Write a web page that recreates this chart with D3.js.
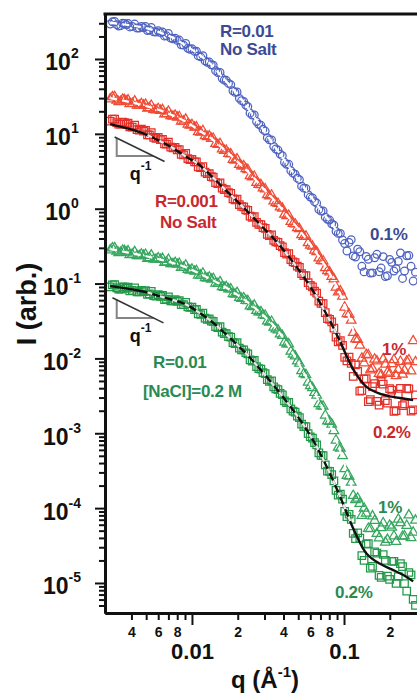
<!DOCTYPE html>
<html>
<head>
<meta charset="utf-8">
<script src="https://cdn.jsdelivr.net/npm/d3@7"></script>
<style>
  html, body { margin: 0; padding: 0; background: #fff; }
  svg { display: block; }
  text { font-family: "Liberation Sans", Arial, Helvetica, sans-serif; font-weight: bold; }
</style>
</head>
<body>
<svg id="chart" width="417" height="695"></svg>
<script>
// scattering vector q (1/A): two interleaved sets of points shared by all five curves
var qA = [0.0029, 0.0031, 0.0033, 0.0035, 0.0037, 0.0039, 0.0042, 0.0045, 0.0048, 0.0051,
  0.0054, 0.0058, 0.0062, 0.0066, 0.0070, 0.0075, 0.0080, 0.0085, 0.0091, 0.0097,
  0.0104, 0.0110, 0.0118, 0.0126, 0.0134, 0.0143, 0.0153, 0.0163, 0.0174, 0.0186,
  0.0198, 0.0212, 0.0226, 0.0241, 0.0257, 0.0275, 0.0293, 0.0313, 0.0334, 0.0356,
  0.0380, 0.0406, 0.0433, 0.0462, 0.0493, 0.0526, 0.0562, 0.0600, 0.0640, 0.0683,
  0.0729, 0.0778, 0.0830, 0.0886, 0.0946, 0.1010, 0.1080, 0.1150, 0.1230, 0.1310,
  0.1400, 0.1490, 0.1590, 0.1700, 0.1810, 0.1930, 0.2060, 0.2200, 0.2350, 0.2500,
  0.2670, 0.2850];
var qB = [0.0030, 0.0032, 0.0034, 0.0036, 0.0038, 0.00405, 0.00435, 0.00465, 0.00495, 0.00525,
  0.0056, 0.0060, 0.0064, 0.0068, 0.00725, 0.00775, 0.00825, 0.0088, 0.0094, 0.0100,
  0.0107, 0.0114, 0.0122, 0.0130, 0.0138, 0.0148, 0.0158, 0.0168, 0.0180, 0.0192,
  0.0205, 0.0219, 0.0233, 0.0249, 0.0266, 0.0284, 0.0303, 0.0323, 0.0345, 0.0368,
  0.0393, 0.0419, 0.0447, 0.0477, 0.0509, 0.0544, 0.0581, 0.0620, 0.0661, 0.0706,
  0.0753, 0.0804, 0.0858, 0.0916, 0.0978, 0.1045, 0.1115, 0.1190, 0.1270, 0.1355,
  0.1445, 0.1540, 0.1645, 0.1755, 0.1870, 0.1995, 0.2130, 0.2275, 0.2425, 0.2585,
  0.2760, 0.2950];

// R=0.01, no salt, 0.1 % (circles)
var blue01A = [293, 317, 276, 300, 287, 268, 293, 259, 262, 240, 264, 229, 225, 202, 219, 186, 177, 155,
  161, 135, 126, 110, 111, 90.3, 83.7, 69.8, 66.2, 52.1, 47.2, 37.6, 36.2, 27.7, 24.2, 18.9, 17.9,
  13.4, 11.5, 8.88, 8.28, 6.26, 5.36, 4.17, 3.92, 2.98, 2.56, 2.00, 1.87, 1.43, 1.24, 0.979, 0.932,
  0.720, 0.629, 0.498, 0.468, 0.342, 0.354, 0.234, 0.288, 0.170, 0.230, 0.138, 0.221, 0.144, 0.229,
  0.127, 0.192, 0.158, 0.257, 0.147, 0.237, 0.108];
var blue01B = [314, 287, 279, 298, 299, 272, 259, 273, 271, 244, 231, 238, 230, 204, 190, 190, 179, 153,
  139, 137, 127, 107, 94.3, 91.0, 82.5, 65.9, 55.2, 51.9, 45.5, 35.8, 29.8, 27.1, 23.1, 17.8, 14.6,
  13.0, 10.9, 8.32, 6.77, 6.07, 5.11, 3.92, 3.22, 2.89, 2.44, 1.88, 1.54, 1.39, 1.19, 0.927, 0.770,
  0.705, 0.604, 0.468, 0.382, 0.272, 0.385, 0.226, 0.266, 0.143, 0.211, 0.139, 0.246, 0.161, 0.124,
  0.210, 0.147, 0.198, 0.117, 0.235, 0.170, 0.142];

// R=0.001, no salt, 1 % (triangles)
var red1A = [29.1, 31.2, 26.8, 28.8, 27.2, 25.1, 27.3, 24.1, 24.0, 21.9, 23.9, 20.8, 20.5, 18.4, 19.9,
  17.1, 16.6, 14.7, 15.6, 13.0, 12.2, 10.6, 11.0, 9.11, 8.67, 7.41, 7.37, 5.96, 5.43, 4.53, 4.59,
  3.71, 3.40, 2.75, 2.69, 2.10, 1.88, 1.53, 1.51, 1.20, 1.05, 0.840, 0.809, 0.633, 0.556, 0.447,
  0.427, 0.324, 0.278, 0.218, 0.200, 0.148, 0.124, 0.0892, 0.0791, 0.0482, 0.0389, 0.0221, 0.0178,
  0.0100, 0.0112, 0.00699, 0.00971, 0.00625, 0.00977, 0.00649, 0.00848, 0.00584, 0.00908, 0.00692,
  0.00950, 0.0171];
var red1B = [31.1, 28.0, 26.9, 28.4, 28.2, 25.4, 24.1, 25.2, 24.7, 22.2, 21.0, 21.6, 20.9, 18.5, 17.4,
  17.6, 16.9, 14.7, 13.4, 13.2, 12.3, 10.5, 9.39, 9.31, 8.66, 7.16, 6.23, 5.96, 5.36, 4.42, 3.88,
  3.72, 3.31, 2.64, 2.24, 2.08, 1.83, 1.47, 1.26, 1.17, 1.01, 0.800, 0.673, 0.621, 0.538, 0.423,
  0.350, 0.314, 0.266, 0.202, 0.162, 0.142, 0.115, 0.0766, 0.0677, 0.0395, 0.0322, 0.0181, 0.0149,
  0.00868, 0.0111, 0.00729, 0.00923, 0.00602, 0.00834, 0.00626, 0.00958, 0.00706, 0.00610, 0.00918,
  0.00679, 0.00897];

// R=0.001, no salt, 0.2 % (squares)
var red02A = [14.8, 15.7, 13.5, 14.3, 13.5, 12.4, 13.1, 11.2, 10.9, 9.68, 10.4, 8.72, 8.36, 7.32, 7.74,
  6.47, 6.11, 5.30, 5.47, 4.52, 4.21, 3.63, 3.64, 2.93, 2.69, 2.23, 2.22, 1.80, 1.64, 1.35, 1.34,
  1.07, 0.967, 0.797, 0.785, 0.617, 0.558, 0.455, 0.447, 0.360, 0.320, 0.258, 0.252, 0.195, 0.171,
  0.136, 0.128, 0.0943, 0.0791, 0.0583, 0.0540, 0.0339, 0.0307, 0.0192, 0.0173, 0.0103, 0.0104,
  0.00576, 0.00669, 0.00370, 0.00538, 0.00281, 0.00459, 0.00238, 0.00453, 0.00252, 0.00377, 0.00200,
  0.00398, 0.00247, 0.00393, 0.00206];
var red02B = [15.7, 14.1, 13.5, 14.1, 13.9, 12.3, 11.4, 11.6, 11.1, 9.72, 8.94, 8.94, 8.45, 7.30, 6.66,
  6.58, 6.14, 5.22, 4.67, 4.56, 4.22, 3.53, 3.07, 2.94, 2.65, 2.16, 1.88, 1.80, 1.60, 1.31, 1.13,
  1.06, 0.948, 0.767, 0.655, 0.615, 0.544, 0.438, 0.377, 0.355, 0.310, 0.247, 0.208, 0.191, 0.164,
  0.128, 0.103, 0.0904, 0.0745, 0.0544, 0.0408, 0.0332, 0.0254, 0.0166, 0.0149, 0.00930, 0.00861,
  0.00818, 0.00366, 0.00528, 0.00265, 0.00419, 0.00266, 0.00490, 0.00272, 0.00394, 0.00196, 0.00334,
  0.00234, 0.00399, 0.00197, 0.00325];

// R=0.01, [NaCl]=0.2 M, 1 % (triangles)
var green1A = [0.280, 0.299, 0.258, 0.277, 0.262, 0.241, 0.265, 0.234, 0.236, 0.216, 0.239, 0.210, 0.209,
  0.190, 0.209, 0.183, 0.180, 0.163, 0.175, 0.150, 0.145, 0.129, 0.137, 0.117, 0.114, 0.101, 0.105,
  0.0884, 0.0842, 0.0726, 0.0755, 0.0628, 0.0593, 0.0500, 0.0511, 0.0417, 0.0380, 0.0314, 0.0311,
  0.0247, 0.0211, 0.0164, 0.0155, 0.0113, 0.00922, 0.00682, 0.00603, 0.00430, 0.00349, 0.00248,
  0.00229, 0.00145, 0.00132, 0.000806, 0.000627, 0.000334, 0.000266, 0.000147, 0.000135, 7.96e-5,
  8.54e-5, 5.30e-5, 6.82e-5, 3.99e-5, 6.32e-5, 3.79e-5, 5.55e-5, 3.56e-5, 6.35e-5, 4.23e-5, 8.05e-5,
  4.75e-5];
var green1B = [0.298, 0.269, 0.259, 0.273, 0.271, 0.245, 0.234, 0.246, 0.244, 0.220, 0.210, 0.219, 0.215,
  0.193, 0.184, 0.190, 0.185, 0.164, 0.153, 0.155, 0.148, 0.129, 0.119, 0.121, 0.116, 0.0995, 0.0904,
  0.0903, 0.0844, 0.0718, 0.0648, 0.0639, 0.0588, 0.0490, 0.0434, 0.0417, 0.0373, 0.0303, 0.0260,
  0.0239, 0.0201, 0.0155, 0.0124, 0.0107, 0.00856, 0.00622, 0.00479, 0.00405, 0.00322, 0.00231,
  0.00174, 0.00143, 0.00108, 0.000648, 0.000501, 0.000272, 0.000221, 0.000129, 0.000115, 9.91e-5,
  5.34e-5, 7.81e-5, 4.55e-5, 5.43e-5, 3.49e-5, 5.87e-5, 4.24e-5, 7.09e-5, 4.18e-5, 5.84e-5, 4.02e-5,
  6.86e-5];

// R=0.01, [NaCl]=0.2 M, 0.2 % (squares)
var green02A = [0.0900, 0.0966, 0.0839, 0.0903, 0.0860, 0.0796, 0.0876, 0.0774, 0.0779, 0.0715, 0.0786,
  0.0680, 0.0674, 0.0611, 0.0666, 0.0585, 0.0578, 0.0521, 0.0559, 0.0482, 0.0447, 0.0392, 0.0403,
  0.0332, 0.0314, 0.0266, 0.0265, 0.0214, 0.0195, 0.0162, 0.0163, 0.0130, 0.0119, 0.00959, 0.00939,
  0.00732, 0.00647, 0.00519, 0.00501, 0.00391, 0.00340, 0.00270, 0.00258, 0.00197, 0.00169, 0.00132,
  0.00123, 0.000898, 0.000747, 0.000546, 0.000501, 0.000311, 0.000280, 0.000173, 0.000154, 9.08e-5,
  8.28e-5, 4.59e-5, 4.67e-5, 2.32e-5, 3.30e-5, 1.58e-5, 2.61e-5, 1.26e-5, 2.40e-5, 1.23e-5, 1.95e-5,
  9.86e-6, 1.81e-5, 9.77e-6, 1.38e-5, 6.04e-6];
var green02B = [0.0962, 0.0873, 0.0844, 0.0895, 0.0893, 0.0810, 0.0774, 0.0813, 0.0806, 0.0727, 0.0688,
  0.0709, 0.0693, 0.0619, 0.0587, 0.0609, 0.0593, 0.0523, 0.0488, 0.0486, 0.0452, 0.0386, 0.0344,
  0.0338, 0.0312, 0.0257, 0.0224, 0.0214, 0.0192, 0.0157, 0.0137, 0.0130, 0.0115, 0.00920, 0.00779,
  0.00721, 0.00625, 0.00494, 0.00416, 0.00382, 0.00327, 0.00256, 0.00212, 0.00191, 0.00162, 0.00123,
  0.000986, 0.000858, 0.000700, 0.000507, 0.000377, 0.000309, 0.000231, 0.000149, 0.000132, 7.67e-5,
  7.08e-5, 3.91e-5, 3.96e-5, 2.01e-5, 3.35e-5, 1.66e-5, 2.51e-5, 1.19e-5, 2.00e-5, 1.12e-5, 1.94e-5,
  1.22e-5, 1.65e-5, 7.79e-6, 1.28e-5, 5.02e-6];

// model curves on a coarser q grid
var fitQ = [0.0029, 0.0035, 0.0042, 0.0051, 0.0062, 0.0075, 0.0091, 0.011, 0.0134, 0.0163, 0.0198,
  0.0241, 0.0293, 0.0356, 0.0433, 0.0526, 0.064, 0.0778, 0.0946, 0.115, 0.14, 0.17, 0.206, 0.25, 0.285];
var blue01Fit = [303, 291, 276, 256, 225, 192, 151, 117, 83.7, 53.7, 34.1, 20.1, 11.5, 6.45, 3.69, 2.13,
  1.24, 0.743, 0.440];
var red1Fit = [30.0, 27.9, 25.7, 23.3, 20.5, 17.6, 14.6, 11.3, 8.67, 6.14, 4.31, 2.93, 1.88, 1.23, 0.761,
  0.475, 0.278, 0.153, 0.0721, 0.0243];
var red02Fit = [13.5, 12.3, 11.1, 9.60, 7.93, 6.45, 4.98, 3.95, 2.74, 1.85, 1.26, 0.848, 0.561, 0.372,
  0.229, 0.135, 0.0737, 0.0368, 0.0165, 0.00714, 0.00419, 0.00340, 0.00308, 0.00289, 0.00278];
var green1Fit = [0.289, 0.268, 0.249, 0.230, 0.209, 0.188, 0.165, 0.138, 0.114, 0.0912, 0.0710, 0.0532,
  0.0380, 0.0254, 0.0145, 0.00725, 0.00349, 0.00159, 0.000571, 0.000166];
var green02Fit = [0.0928, 0.0876, 0.0823, 0.0760, 0.0674, 0.0604, 0.0526, 0.0417, 0.0314, 0.0221, 0.0153,
  0.0102, 0.00647, 0.00403, 0.00243, 0.00141, 0.000747, 0.000341, 0.000140, 5.35e-5, 2.50e-5, 1.83e-5,
  1.52e-5, 1.25e-5, 1.05e-5];

// tick labels
var yMajorTicks = [1e-5, 1e-4, 1e-3, 1e-2, 1e-1, 1, 10, 100];
var yExponents = ['-5', '-4', '-3', '-2', '-1', '0', '1', '2'];
var xMajorTicks = [0.01, 0.1];
var xMajorLabels = ['0.01', '0.1'];
var xMinorTicks = [0.004, 0.005, 0.006, 0.007, 0.008, 0.009, 0.02, 0.03, 0.04, 0.05, 0.06, 0.07, 0.08, 0.09, 0.2];
var xMinorLabels = ['4', '', '6', '', '8', '', '2', '', '4', '', '6', '', '8', '', '2'];

// q^-1 guide triangles: I = k / q
var slopeMarks = [
  { k: 0.0282, qLeg: 0.0032, Ibase: 5.06, qFrom: 0.0031, qTo: 0.0066 },
  { k: 0.000194, qLeg: 0.0032, Ibase: 0.0347, qFrom: 0.0030, qTo: 0.0065 }
];

var BLUE = '#4e62c0', BLUE_TXT = '#3b4a94';
var RED_T = '#f04a34', RED_S = '#e4302a', RED_TXT = '#c8282e';
var GREEN_T = '#35a65e', GREEN_S = '#229848', GREEN_TXT = '#2a8a52';

var series = [
  { a: blue01A, b: blue01B, symbol: d3.symbolCircle, size: 46, color: BLUE },
  { a: red1A, b: red1B, symbol: d3.symbolTriangle, size: 40, color: RED_T },
  { a: red02A, b: red02B, symbol: d3.symbolSquare, size: 56, color: RED_S },
  { a: green1A, b: green1B, symbol: d3.symbolTriangle, size: 40, color: GREEN_T },
  { a: green02A, b: green02B, symbol: d3.symbolSquare, size: 56, color: GREEN_S }
];

// white dashed = model drawn over markers; lower sets also get a black curve underneath
var fits = [
  { values: blue01Fit, black: false, qMin: 0, qMax: 1 },
  { values: red1Fit, black: false, qMin: 0, qMax: 1 },
  { values: red02Fit, black: true, qMin: 0.0048, qMax: 0.1 },
  { values: green1Fit, black: false, qMin: 0, qMax: 1 },
  { values: green02Fit, black: true, qMin: 0.0048, qMax: 0.116 }
];

var textLabels = [
  { text: 'R=0.01', x: 220, y: 37, color: BLUE_TXT },
  { text: 'No Salt', x: 220, y: 55, color: BLUE_TXT },
  { text: 'R=0.001', x: 155, y: 207, color: RED_TXT },
  { text: 'No Salt', x: 160, y: 228, color: RED_TXT },
  { text: 'R=0.01', x: 153, y: 368, color: GREEN_TXT },
  { text: '[NaCl]=0.2 M', x: 143, y: 397, color: GREEN_TXT },
  { text: '0.1%', x: 370, y: 240, color: BLUE_TXT },
  { text: '1%', x: 382, y: 355, color: RED_TXT },
  { text: '0.2%', x: 373, y: 438, color: RED_TXT },
  { text: '1%', x: 378, y: 513, color: GREEN_TXT },
  { text: '0.2%', x: 335, y: 598, color: GREEN_TXT }
];

var svg = d3.select('#chart');

var x = d3.scaleLog().domain([0.00268, 0.302]).range([105, 417]);
var y = d3.scaleLog().domain([3.97e-6, 399]).range([613, 14]);

svg.append('clipPath').attr('id', 'plotClip')
  .append('rect')
  .attr('x', x.range()[0]).attr('y', y.range()[1])
  .attr('width', x.range()[1] - x.range()[0])
  .attr('height', y.range()[0] - y.range()[1]);

var plot = svg.append('g').attr('clip-path', 'url(#plotClip)');

function toPoints(qs, vals) {
  return qs.map(function (q, i) { return { q: q, I: vals[i] }; })
    .filter(function (d) { return d.I != null; });
}

// markers
series.forEach(function (s) {
  var pts = toPoints(qA, s.a).concat(toPoints(qB, s.b));

  plot.append('g').selectAll('path')
    .data(pts)
    .enter().append('path')
    .attr('d', d3.symbol().type(s.symbol).size(s.size))
    .attr('transform', function (d) { return 'translate(' + x(d.q) + ',' + y(d.I) + ')'; })
    .attr('fill', 'none')
    .attr('stroke', s.color)
    .attr('stroke-width', 1.25);
});

// model curves
var fitLine = d3.line()
  .x(function (d) { return x(d.q); })
  .y(function (d) { return y(d.I); })
  .curve(d3.curveCatmullRom);

fits.forEach(function (f) {
  var pts = toPoints(fitQ, f.values);

  if (f.black) {
    plot.append('path')
      .attr('d', fitLine(pts))
      .attr('fill', 'none')
      .attr('stroke', '#111')
      .attr('stroke-width', 2.4);
  }

  var dashPts = pts.filter(function (d) { return d.q >= f.qMin && d.q <= f.qMax; });
  plot.append('path')
    .attr('d', fitLine(dashPts))
    .attr('fill', 'none')
    .attr('stroke', f.black ? '#e8e8e8' : '#fff')
    .attr('stroke-width', f.black ? 2.4 : 2.2)
    .attr('stroke-dasharray', f.black ? '5,8' : '7,5');
});

// slope guides
slopeMarks.forEach(function (m) {
  plot.append('path')
    .attr('d', 'M' + x(m.qLeg) + ',' + y(m.k / m.qLeg) + 'V' + y(m.Ibase) + 'H' + x(m.k / m.Ibase))
    .attr('fill', 'none')
    .attr('stroke', '#858585')
    .attr('stroke-width', 2);
  plot.append('line')
    .attr('x1', x(m.qFrom)).attr('y1', y(m.k / m.qFrom))
    .attr('x2', x(m.qTo)).attr('y2', y(m.k / m.qTo))
    .attr('stroke', '#333')
    .attr('stroke-width', 1.6);

  var lbl = svg.append('text')
    .attr('x', x(m.qLeg) + 13)
    .attr('y', y(m.Ibase) + 24)
    .style('font-size', '18px')
    .attr('fill', '#111');
  lbl.append('tspan').text('q');
  lbl.append('tspan').attr('dy', -10).style('font-size', '12px').text('-1');
});

// y axis
var yMinor = y.ticks().filter(function (t) {
  var e = Math.log10(t);
  return Math.abs(e - Math.round(e)) > 1e-6 && y(t) < 610;
});

var yMinorG = svg.append('g').attr('transform', 'translate(' + x.range()[0] + ',0)')
  .call(d3.axisLeft(y).tickValues(yMinor).tickSize(6).tickSizeOuter(0)
    .tickFormat(function () { return ''; }));

var yMajorG = svg.append('g').attr('transform', 'translate(' + x.range()[0] + ',0)')
  .call(d3.axisLeft(y).tickValues(yMajorTicks).tickSize(10).tickSizeOuter(0)
    .tickFormat(function () { return ''; }));

yMajorG.selectAll('.tick text').each(function (d, i) {
  var t = d3.select(this)
    .attr('x', -43).attr('y', 11).attr('dy', null)
    .attr('text-anchor', 'middle')
    .attr('fill', '#111')
    .style('font-size', '23px');
  t.append('tspan').text('10');
  t.append('tspan').attr('dy', -12).style('font-size', '14px').text(yExponents[i]);
});

// x axis
var xMinorG = svg.append('g').attr('transform', 'translate(0,' + y.range()[0] + ')')
  .call(d3.axisBottom(x).tickValues(xMinorTicks).tickSize(7).tickSizeOuter(0)
    .tickFormat(function (d, i) { return xMinorLabels[i]; }));

xMinorG.selectAll('.tick text')
  .attr('y', 24).attr('dy', null)
  .attr('fill', '#111')
  .style('font-size', '14px');

var xMajorG = svg.append('g').attr('transform', 'translate(0,' + y.range()[0] + ')')
  .call(d3.axisBottom(x).tickValues(xMajorTicks).tickSize(12).tickSizeOuter(0)
    .tickFormat(function (d, i) { return xMajorLabels[i]; }));

xMajorG.selectAll('.tick text')
  .attr('y', 46).attr('dy', null)
  .attr('fill', '#111')
  .style('font-size', '22px');

[yMinorG, yMajorG, xMinorG, xMajorG].forEach(function (g) {
  g.selectAll('.tick line').attr('stroke', '#111').attr('stroke-width', 2);
  g.select('.domain').attr('stroke', '#111').attr('stroke-width', 3);
});

// top frame
svg.append('line')
  .attr('x1', x.range()[0] - 1.5).attr('x2', x.range()[1])
  .attr('y1', y.range()[1]).attr('y2', y.range()[1])
  .attr('stroke', '#111')
  .attr('stroke-width', 3);

// axis titles
svg.append('text')
  .attr('transform', 'translate(36,304) rotate(-90)')
  .attr('text-anchor', 'middle')
  .attr('fill', '#111')
  .style('font-size', '27px')
  .text('I (arb.)');

var xTitle = svg.append('text')
  .attr('x', 265).attr('y', 688)
  .attr('text-anchor', 'middle')
  .attr('fill', '#111')
  .style('font-size', '24px');
xTitle.append('tspan').text('q (\u00c5');
xTitle.append('tspan').attr('dy', -11).style('font-size', '15px').text('-1');
xTitle.append('tspan').attr('dy', 11).text(')');

// series annotations
svg.selectAll('.series-label')
  .data(textLabels)
  .enter().append('text')
  .attr('class', 'series-label')
  .attr('x', function (d) { return d.x; })
  .attr('y', function (d) { return d.y; })
  .attr('fill', function (d) { return d.color; })
  .style('font-size', '17px')
  .style('letter-spacing', '-0.3px')
  .text(function (d) { return d.text; });
</script>
</body>
</html>
